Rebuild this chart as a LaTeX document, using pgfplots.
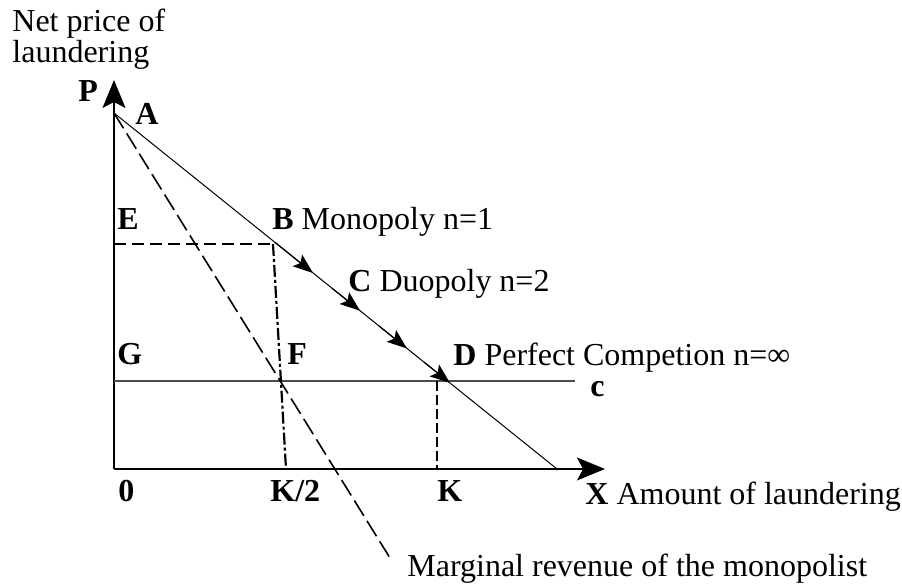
\documentclass[border=0pt]{standalone}
\usepackage{fontspec}
\setmainfont{Liberation Serif}
\usepackage{pgfplots}
\pgfplotsset{compat=1.18}
\usetikzlibrary{arrows.meta}
\tikzset{lbl/.style={font=\fontsize{16}{19}\selectfont, anchor=base west, inner sep=0pt}}

\begin{document}
\begin{tikzpicture}
\begin{axis}[
  width=451pt, height=293.5pt, scale only axis, hide axis,
  xmin=-114, xmax=788, ymin=-118, ymax=469,
  clip=false,
]
% axes
\addplot [black, line width=0.7pt, -{Stealth[length=14pt,width=11.5pt,inset=3pt]}]
  coordinates {(0,0)(0,389)};
\addplot [black, line width=0.7pt, -{Stealth[length=14pt,width=11.5pt,inset=3pt]}]
  coordinates {(0,0)(491,0)};
% marginal cost c
\addplot [black!70, line width=0.7pt] coordinates {(0,88)(461,88)};
% demand
\addplot [black, line width=0.5pt] coordinates {(0,356)(443,0)};
% marginal revenue
\addplot [black, line width=0.8pt, dash pattern=on 9pt off 3pt] coordinates {(0,356)(276,-89)};
% monopoly price and quantity
\addplot [black, line width=1.4pt, dash pattern=on 6pt off 3pt] coordinates {(0,225)(161,225)};
\addplot [black, line width=1.1pt, dash pattern=on 6pt off 1.5pt on 1.5pt off 1.5pt] coordinates {(159,225)(172,0)};
% competitive quantity
\addplot [black, line width=1.4pt, dash pattern=on 5pt off 2pt] coordinates {(323,88)(323,0)};
% movement along demand
\addplot [black, line width=0.6pt, -{Stealth[length=10pt,width=7.5pt,inset=2pt]}] coordinates {(161,226.6)(199,196)};
\addplot [black, line width=0.6pt, -{Stealth[length=10pt,width=7.5pt,inset=2pt]}] coordinates {(218,180.8)(246,158.3)};
\addplot [black, line width=0.6pt, -{Stealth[length=10pt,width=7.5pt,inset=2pt]}] coordinates {(265,143.0)(293,120.5)};
\addplot [black, line width=0.6pt, -{Stealth[length=10pt,width=7.5pt,inset=2pt]}] coordinates {(310,106.9)(336,86)};
% labels
\node[lbl] at (axis cs:-102,437) {Net price of};
\node[lbl] at (axis cs:-102,406) {laundering};
\node[lbl] at (axis cs:-36,367) {\textbf{P}};
\node[lbl] at (axis cs:21,344) {\textbf{A}};
\node[lbl] at (axis cs:3,239) {\textbf{E}};
\node[lbl] at (axis cs:158,239) {\textbf{B} Monopoly n=1};
\node[lbl] at (axis cs:234,177) {\textbf{C} Duopoly n=2};
\node[lbl] at (axis cs:3,104) {\textbf{G}};
\node[lbl] at (axis cs:173,104) {\textbf{F}};
\node[lbl] at (axis cs:339,103) {\textbf{D} Perfect Competion n=∞};
\node[lbl] at (axis cs:476,72) {\textbf{c}};
\node[lbl] at (axis cs:4,-33) {\textbf{0}};
\node[lbl] at (axis cs:156,-33) {\textbf{K/2}};
\node[lbl] at (axis cs:323,-33) {\textbf{K}};
\node[lbl] at (axis cs:471,-36) {\textbf{X} Amount of laundering};
\node[lbl] at (axis cs:293,-108) {Marginal revenue of the monopolist};
\coordinate (bl) at (axis cs:-114,-118);
\coordinate (tr) at (axis cs:788,469);
\end{axis}
\pgfresetboundingbox
\path (bl) rectangle (tr);
\end{tikzpicture}
\end{document}
